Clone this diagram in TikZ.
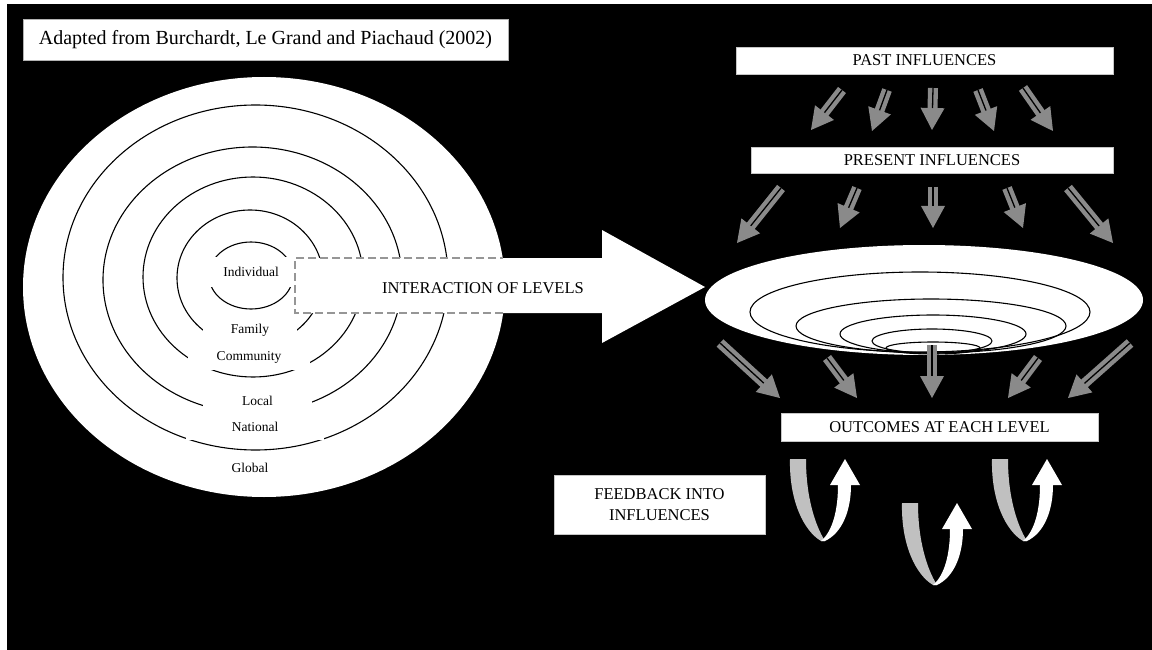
\documentclass[tikz,border=0pt]{standalone}
\usepackage{fontspec}
\setmainfont{Liberation Serif}
\usetikzlibrary{calc}
\definecolor{arrowgray}{RGB}{138,138,138}
\definecolor{ribbongray}{RGB}{192,192,192}
\definecolor{dashgray}{RGB}{150,150,150}
\newcommand\feedloop[3]{%
  \begin{scope}[shift={(#1,#2)}]
    \coordinate (#3) at (0,0);
    \fill[ribbongray] (0,0) .. controls (-1,42) and (14,72) .. (31,82) -- (35,82)
      .. controls (25,66) and (16,38) .. (16,0) -- cycle;
    \fill[white] (31,82) .. controls (43,72) and (48,50) .. (48,26) -- (40,26) -- (55,0)
      -- (70,26) -- (61,26) .. controls (61,52) and (52,74) .. (35,82) -- cycle;
  \end{scope}}
\begin{document}
\begin{tikzpicture}[x=1pt,y=-1pt,
  box/.style={fill=white, draw=gray!45, line width=0.6pt, inner sep=0pt,
    font=\fontsize{16.5}{21}\selectfont, align=center},
  ringlabel/.style={fill=white, inner sep=0pt, font=\fontsize{13.5}{16}\selectfont},
  ringline/.style={draw=black, line width=1.1pt},
  dashline/.style={draw=dashgray, line width=1.2pt, dash pattern=on 8pt off 4pt}]
\useasboundingbox (0,0) rectangle (1152,650);
\fill[white] (0,0) rectangle (1152,650);
\fill[black] (7,4) rectangle (1152,650);

% title
\node[box, draw=gray!60, minimum width=485pt, minimum height=41pt,
  font=\fontsize{20}{24}\selectfont] (title) at (265.5,39.5)
  {Adapted from Burchardt, Le Grand and Piachaud (2002)};

% left concentric levels
\fill[white] (264,287) ellipse [x radius=241pt, y radius=210pt];
\draw[ringline] (255.5,277.5) ellipse [x radius=192.5pt, y radius=172.5pt];
\draw[ringline] (252.5,280) ellipse [x radius=149.5pt, y radius=133pt];
\draw[ringline] (253,277) ellipse [x radius=110pt, y radius=100pt];
\draw[ringline] (250,278) ellipse [x radius=73pt, y radius=68pt];
\draw[ringline] (251,275.5) ellipse [x radius=42pt, y radius=33.5pt];

\node[ringlabel, minimum width=92pt, minimum height=30pt] (individual) at (251,272) {Individual};
\node[ringlabel, minimum width=94pt, minimum height=38pt] (family) at (250,330) {Family};
\node[ringlabel, minimum width=122pt, minimum height=26pt] (community) at (249,357) {Community};
\node[ringlabel, minimum width=109pt, minimum height=34pt] (local) at (257.5,401) {Local};
\node[ringlabel, minimum width=138pt, minimum height=27pt] (national) at (255,426.5) {National};
\node[ringlabel] (global) at (250,468) {Global};

% big arrow
\fill[white] (295,258) -- (602,258) -- (602,230) -- (705,287) -- (602,343)
  -- (602,313) -- (295,313) -- cycle;
\begin{scope}
  \clip (264,287) ellipse [x radius=241pt, y radius=210pt];
  \draw[dashline] (520,258) -- (295,258) -- (295,313) -- (520,313);
\end{scope}
\node[font=\fontsize{16.5}{20}\selectfont, inner sep=0pt] (interaction) at (483,288) {INTERACTION OF LEVELS};

% right side boxes
\node[box, minimum width=377pt, minimum height=27pt] (past) at (924.5,60.5) {PAST INFLUENCES};
\node[box, minimum width=362pt, minimum height=26pt] (present) at (932,160) {PRESENT INFLUENCES};

% right ellipse
\fill[white] (924,300) ellipse [x radius=219pt, y radius=55pt];
\draw[ringline] (920,312) ellipse [x radius=170pt, y radius=40pt];
\draw[ringline] (931,326) ellipse [x radius=135pt, y radius=27pt];
\draw[ringline] (933,334) ellipse [x radius=93pt, y radius=19pt];
\draw[ringline] (932,341) ellipse [x radius=60pt, y radius=12pt];
\draw[ringline] (933,348) ellipse [x radius=47pt, y radius=6pt];

% gray arrows
\foreach \n/\ax/\ay/\bx/\by in {
  a1/842/90/811/130, a2/887/90/872/131, a3/933/88/932/130, a4/978/90/994/131, a5/1023/88/1053/131,
  b1/781/188/737/243, b2/857/188/840/228, b3/933/187/933/228, b4/1007/188/1023/228, b5/1068/188/1113/243,
  c1/720/343/780/398, c2/827/358/857/398, c3/932/345/932/398, c4/1038/358/1008/398, c5/1130/343/1068/398}{
  \coordinate (t\n) at (\ax,\ay);
  \coordinate (h\n) at (\bx,\by);
  \coordinate (m\n) at ($(h\n)!22pt!(t\n)$);
  \fill[arrowgray] (h\n) -- ($(m\n)!12pt!90:(h\n)$) -- ($(m\n)!12pt!-90:(h\n)$) -- cycle;
  \draw[arrowgray, line width=10pt] (t\n) -- ($(m\n)!-0.5pt!(t\n)$);
  \draw[black, line width=1.3pt] (t\n) -- (m\n);
}

\node[box, minimum width=317pt, minimum height=28pt] (outcomes) at (939.5,427) {OUTCOMES AT EACH LEVEL};
\node[box, minimum width=211pt, minimum height=59pt] (feedback) at (659.5,504.5) {FEEDBACK INTO\\INFLUENCES};

% feedback loops
\feedloop{790}{459}{loopA}
\feedloop{902}{503}{loopB}
\feedloop{992}{459}{loopC}
\end{tikzpicture}
\end{document}
